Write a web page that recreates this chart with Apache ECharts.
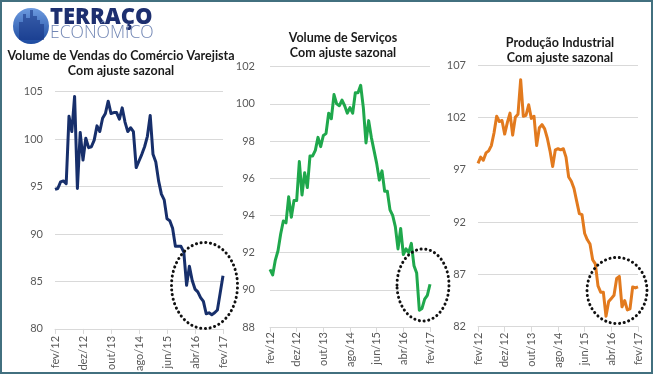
<!DOCTYPE html>
<html><head><meta charset="utf-8">
<script src="https://cdn.jsdelivr.net/npm/echarts@6/dist/echarts.min.js"></script>
<style>html,body{margin:0;padding:0;background:#fff}#c{width:653px;height:374px}</style>
</head><body><div id="c"></div>
<script>
const monthNames = ['jan','fev','mar','abr','mai','jun','jul','ago','set','out','nov','dez'];
const categories = [];
for (let k = 0; k < 61; k++) {
  const m = (1 + k) % 12;
  const y = 12 + Math.floor((1 + k) / 12);
  categories.push(monthNames[m] + '/' + y);
}

const varejo = [94.7,94.8,95.5,95.6,95.3,102.4,100.8,104.5,94.8,100.7,
  97.8,100.1,99.1,99.2,99.9,101.4,100.8,102.2,102.7,104.0,
  102.7,102.8,102.8,102.1,103.3,101.8,100.8,101.2,100.8,97.0,
  97.7,98.4,99.2,100.3,102.5,98.4,97.6,95.6,94.2,93.6,
  91.6,91.4,90.6,88.7,88.7,88.7,88.1,84.6,86.6,85.1,
  84.2,83.9,83.3,82.9,81.6,81.7,81.5,81.7,82.0,83.8,85.6];

const servicos = [91.1,90.8,91.6,92.1,93.0,93.7,93.6,95.0,93.9,94.8,
  94.8,96.9,95.1,96.3,95.5,97.2,97.2,97.5,98.2,97.7,
  98.3,98.4,99.5,99.2,100.5,100.0,99.9,100.2,99.9,99.5,
  99.8,99.5,100.6,100.6,101.0,99.8,97.9,99.1,98.2,97.5,
  96.8,95.9,96.4,95.3,95.3,94.3,94.0,93.4,92.2,93.3,
  91.9,92.2,92.0,92.5,91.3,90.9,88.9,89.0,89.5,89.7,90.3];

const industria = [97.6,98.2,97.9,98.6,98.8,99.3,100.5,102.1,101.6,101.7,
  100.4,101.5,102.4,100.3,102.0,102.3,105.6,102.1,102.2,103.2,
  101.9,102.1,99.3,101.0,101.3,100.9,100.0,98.8,97.3,98.9,
  99.0,98.9,99.0,98.2,96.3,95.9,95.2,94.0,92.8,92.7,
  90.9,90.3,89.9,88.4,88.0,85.9,85.3,85.3,83.0,84.4,
  84.7,85.0,86.6,86.8,83.9,84.5,83.6,83.7,85.8,85.7,85.8];

const titles = [
  ['Volume de Vendas do Comércio Varejista', 'Com ajuste sazonal'],
  ['Volume de Serviços', 'Com ajuste sazonal'],
  ['Produção Industrial', 'Com ajuste sazonal']
];
const yRanges = [[80,105,5],[88,102,2],[82,107,5]];
const colors = ['#172f6b', '#1fa84c', '#e27a1e'];
const seriesData = [varejo, servicos, industria];

const grids = [
  {left: 55, top: 91.7, width: 168, height: 238.3},
  {left: 270, top: 66.7, width: 160, height: 260.3},
  {left: 478, top: 65, width: 160, height: 261.7}
];
const yLabelMargin = [12, 15, 12];
const xLabelMargin = [7, 5, 6];

const FONT = 'Lato, "Open Sans", sans-serif';

const chart = echarts.init(document.getElementById('c'), null, {renderer: 'canvas'});

const xAxes = [], yAxes = [], series = [];
for (let i = 0; i < 3; i++) {
  xAxes.push({
    type: 'category', gridIndex: i, data: categories, boundaryGap: false,
    axisLine: {lineStyle: {color: '#d9d9d9', width: 1}},
    axisTick: {show: true, interval: 9, length: 5, lineStyle: {color: '#d9d9d9'}},
    axisLabel: {interval: 9, rotate: 90, color: '#595959', fontSize: 11, fontFamily: FONT, margin: xLabelMargin[i]},
    splitLine: {show: false}
  });
  yAxes.push({
    type: 'value', gridIndex: i, min: yRanges[i][0], max: yRanges[i][1], interval: yRanges[i][2],
    axisLine: {show: false}, axisTick: {show: false},
    axisLabel: {color: '#595959', fontSize: 11, fontFamily: FONT, margin: yLabelMargin[i]},
    splitLine: {lineStyle: {color: '#d9d9d9', width: 1}}
  });
  series.push({
    type: 'line', xAxisIndex: i, yAxisIndex: i, data: seriesData[i],
    symbol: 'none', showSymbol: false,
    lineStyle: {color: colors[i], width: 3, join: 'round'},
    emphasis: {disabled: true}
  });
}

const titlePos = [[121, 56, 71], [343, 38, 53], [560, 43, 58]];
const graphics = [];
for (let i = 0; i < 3; i++) {
  for (let j = 0; j < 2; j++) {
    graphics.push({
      type: 'text', x: titlePos[i][0], y: titlePos[i][1 + j],
      style: {text: titles[i][j], font: 'bold 12.5px ' + FONT, fill: '#1a1a1a', align: 'center', verticalAlign: 'middle'}
    });
  }
}
// dotted ellipses (annotations)
const ell = [[204.5, 285.5, 33, 43], [423, 285, 26, 36], [617, 290.5, 30, 33]];
ell.forEach(e => graphics.push({
  type: 'ellipse', shape: {cx: e[0], cy: e[1], rx: e[2], ry: e[3]},
  style: {fill: 'none', stroke: '#111', lineWidth: 3, lineDash: [0.1, 4.6], lineCap: 'round'},
  z: 10
}));
// logo
graphics.push({
  type: 'circle', shape: {cx: 31, cy: 26, r: 18},
  style: {fill: new echarts.graphic.LinearGradient(0, 0, 0, 1, [{offset: 0, color: '#6d9be0'}, {offset: 1, color: '#1c4aa0'}])}
});
const bld = [[19,22,4],[23,14,3],[26,18,4],[30,10,3],[33,16,4],[37,20,3],[40,24,4]];
bld.forEach(b => graphics.push({
  type: 'rect', shape: {x: b[0], y: b[1], width: b[2], height: 40 - b[1]},
  style: {fill: 'rgba(20,50,130,0.55)'}
}));
graphics.push({
  type: 'text', x: 50, y: 18,
  style: {text: 'TERRAÇO', font: '800 22px "Open Sans", sans-serif', fill: '#1d2f6f', verticalAlign: 'middle'}
});
graphics.push({
  type: 'text', x: 50, y: 33,
  style: {text: 'ECONÔMICO', font: '300 17.5px "Open Sans", sans-serif', fill: '#7186b4', verticalAlign: 'middle'}
});
// frame
graphics.push({
  type: 'rect', shape: {x: 1, y: 1, width: 651, height: 372},
  style: {fill: 'none', stroke: '#42707f', lineWidth: 2}, z: 20
});

chart.setOption({
  animation: false,
  backgroundColor: '#ffffff',
  grid: grids,
  xAxis: xAxes,
  yAxis: yAxes,
  series: series,
  graphic: graphics
});
</script>
</body></html>
